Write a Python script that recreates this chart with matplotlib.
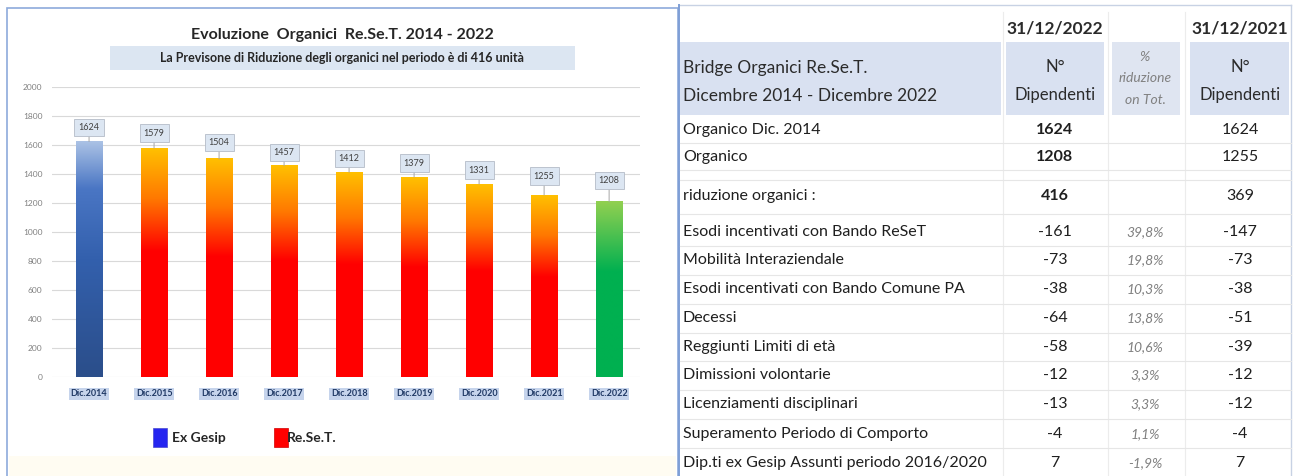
import matplotlib
matplotlib.use("Agg")
import matplotlib.pyplot as plt
import numpy as np
from matplotlib.colors import LinearSegmentedColormap
from matplotlib.patches import Rectangle
from matplotlib.lines import Line2D

plt.rcParams['font.family'] = ['Lato', 'DejaVu Sans']

# ---------------- data ----------------
categories = ['Dic.2014', 'Dic.2015', 'Dic.2016', 'Dic.2017', 'Dic.2018',
              'Dic.2019', 'Dic.2020', 'Dic.2021', 'Dic.2022']
values = [1624, 1579, 1504, 1457, 1412, 1379, 1331, 1255, 1208]
bar_groups = ['gesip', 'reset', 'reset', 'reset', 'reset', 'reset', 'reset', 'reset', 'final']
y_ticks = [0, 200, 400, 600, 800, 1000, 1200, 1400, 1600, 1800, 2000]

chart_title = 'Evoluzione  Organici  Re.Se.T. 2014 - 2022'
chart_subtitle = 'La Previsone di Riduzione degli organici nel periodo è di 416 unità'
legend_labels = ['Ex Gesip', 'Re.Se.T.']

table_title = ['Bridge Organici Re.Se.T.', 'Dicembre 2014 - Dicembre 2022']
col_dates = ['31/12/2022', '31/12/2021']
col_head = ['N°', 'Dipendenti']
pct_head = ['%', 'riduzione', 'on Tot.']
row_labels = ['Organico Dic. 2014', 'Organico', 'riduzione organici :',
              'Esodi incentivati con Bando ReSeT', 'Mobilità Interaziendale',
              'Esodi incentivati con Bando Comune PA', 'Decessi',
              'Reggiunti Limiti di età', 'Dimissioni volontarie',
              'Licenziamenti disciplinari', 'Superamento Periodo di Comporto',
              'Dip.ti ex Gesip Assunti periodo 2016/2020']
col_2022 = ['1624', '1208', '416', '-161', '-73', '-38', '-64', '-58', '-12', '-13', '-4', '7']
col_pct = ['', '', '', '39,8%', '19,8%', '10,3%', '13,8%', '10,6%', '3,3%', '3,3%', '1,1%', '-1,9%']
col_2021 = ['1624', '1255', '369', '-147', '-73', '-38', '-51', '-39', '-12', '-12', '-4', '7']

# ---------------- figure helpers ----------------
W, H = 1293, 476
fig = plt.figure(figsize=(W / 100, H / 100), dpi=100)
fig.patch.set_facecolor('white')


def fx(px):
    return px / W


def fy(py):
    return 1 - py / H


def ftext(px, py, s, **kw):
    fig.text(fx(px), fy(py), s, **kw)


def frect(x0, y0, x1, y1, **kw):
    fig.patches.append(Rectangle((fx(x0), fy(y1)), fx(x1) - fx(x0), fy(y0) - fy(y1),
                                 transform=fig.transFigure, **kw))


def fline(x0, y0, x1, y1, **kw):
    fig.lines.append(Line2D([fx(x0), fx(x1)], [fy(y0), fy(y1)],
                            transform=fig.transFigure, **kw))


# ---------------- left panel ----------------
frect(7, 8, 678, 480, facecolor='white', edgecolor='#8eaadb', lw=1.2, zorder=-2)
frect(9, 456, 676, 478, facecolor='#fffcf2', edgecolor='none', zorder=-1.5)

ftext(342, 35, chart_title, ha='center', va='center', fontsize=11.5,
      fontweight='bold', color='#262626')
frect(110, 46, 575, 70, facecolor='#dce6f2', edgecolor='none', zorder=-1)
ftext(342, 58, chart_subtitle, ha='center', va='center', fontsize=9,
      fontweight='bold', color='#262626', zorder=2)

ax = fig.add_axes([fx(52), fy(377), fx(640) - fx(52), fy(87) - fy(377)])
ax.set_zorder(3)
ax.set_facecolor('none')
x = np.arange(len(categories))
bars = ax.bar(x, values, width=0.4, color='none', edgecolor='none', zorder=3)

gradients = {
    'gesip': [(0.0, '#2b4e8a'), (0.5, '#3360ad'), (0.8, '#4a76c4'), (1.0, '#abc2e5')],
    'reset': [(0.0, '#ff0000'), (0.55, '#ff0000'), (0.78, '#ff7800'), (1.0, '#ffc000')],
    'final': [(0.0, '#00b050'), (0.6, '#00b050'), (1.0, '#92d050')],
}
grad = np.linspace(0, 1, 256).reshape(-1, 1)
for b, g in zip(bars, bar_groups):
    cmap = LinearSegmentedColormap.from_list(g, gradients[g])
    x0, w, h = b.get_x(), b.get_width(), b.get_height()
    ax.imshow(grad, cmap=cmap, origin='lower', aspect='auto',
              extent=[x0, x0 + w, 0, h], zorder=3, interpolation='bilinear')

ax.set_xlim(-0.57, 8.475)
ax.set_ylim(0, 2000)
ax.set_yticks(y_ticks)
ax.set_yticklabels([str(t) for t in y_ticks], fontsize=6, color='#808080')
ax.grid(axis='y', color='#d9d9d9', lw=0.8, zorder=0)
ax.set_axisbelow(True)
for s in ax.spines.values():
    s.set_visible(False)
ax.tick_params(axis='both', length=0)
ax.tick_params(axis='y', pad=7)
ax.set_xticks(x)
ax.set_xticklabels(categories, fontsize=6.5, fontweight='bold', color='#1f3864')
ax.tick_params(axis='x', pad=9)
for lab in ax.get_xticklabels():
    lab.set_bbox(dict(boxstyle='square,pad=0.15', facecolor='#c6d4ec', edgecolor='none'))

label_offsets_px = [14, 15, 16, 13, 14, 14, 14, 19, 21]
for xi, v, off in zip(x, values, label_offsets_px):
    ax.annotate(str(v), xy=(xi, v), xytext=(0, off * 0.72), textcoords='offset points',
                ha='center', va='center', fontsize=6.5, color='#404040', zorder=5,
                bbox=dict(boxstyle='square,pad=0.45', facecolor='#dce6f2',
                          edgecolor='#b4bcc8', lw=0.6),
                arrowprops=dict(arrowstyle='-', color='#a6a6a6', lw=0.7,
                                shrinkA=0, shrinkB=0))

# legend
frect(153, 428, 167, 447, facecolor='#2525f0', edgecolor='#4a4ad0', lw=0.5, zorder=2)
ftext(172, 437.5, legend_labels[0], ha='left', va='center', fontsize=10,
      fontweight='bold', color='#262626')
frect(274, 428, 288, 447, facecolor='#ff0000', edgecolor='#d00000', lw=0.5, zorder=2)
ftext(287, 437.5, legend_labels[1], ha='left', va='center', fontsize=10,
      fontweight='bold', color='#262626')

# ---------------- right panel: table ----------------
L, C1a, C1b, C2a, C2b, C3a, C3b, R = 680, 1006, 1104, 1112, 1180, 1190, 1289, 1291
c1, c2, c3 = 1055, 1145, 1240
hdr_blue = '#d9e1f1'

# header backgrounds
frect(L, 42, 1001, 115, facecolor=hdr_blue, edgecolor='none', zorder=-1)
frect(C1a, 42, C1b, 115, facecolor=hdr_blue, edgecolor='none', zorder=-1)
frect(C2a, 42, C2b, 115, facecolor='#dfe5f1', edgecolor='none', zorder=-1)
frect(C3a, 42, C3b, 115, facecolor=hdr_blue, edgecolor='none', zorder=-1)

# frame
fline(L, 5, R, 5, color='#c8d2e4', lw=1)
fline(L - 1, 5, L - 1, 476, color='#7f9fd6', lw=1.4)
fline(R, 5, R, 476, color='#c8d2e4', lw=1)
for xv in (1003, 1108, 1185):
    fline(xv, 12, xv, 476, color='#ececec', lw=0.8)

ftext(c1, 28, col_dates[0], ha='center', va='center', fontsize=12.5,
      fontweight='bold', color='#2b2b2b')
ftext(c3, 28, col_dates[1], ha='center', va='center', fontsize=12.5,
      fontweight='bold', color='#2b2b2b')

ftext(683, 68, table_title[0], ha='left', va='center', fontsize=12.5, color='#2b2b2b')
ftext(683, 96, table_title[1], ha='left', va='center', fontsize=12.5, color='#2b2b2b')
for cx in (c1, c3):
    ftext(cx, 67, col_head[0], ha='center', va='center', fontsize=12, color='#2b2b2b')
    ftext(cx, 95, col_head[1], ha='center', va='center', fontsize=12, color='#2b2b2b')
for s, yy in zip(pct_head, (57, 78, 100)):
    ftext(c2, yy, s, ha='center', va='center', fontsize=10, style='italic', color='#808080')

row_y = [130, 157, 196, 232, 260, 289, 318, 347, 375, 404, 434, 463]
for yy in [143, 170, 180, 214, 246, 275, 304, 333, 361, 390, 419, 448]:
    fline(L, yy, R, yy, color='#e6e6e6', lw=0.8)

for i, (lab, a, p, b, yy) in enumerate(zip(row_labels, col_2022, col_pct, col_2021, row_y)):
    ftext(683, yy, lab, ha='left', va='center', fontsize=11.5, color='#1f1f1f')
    ftext(c1, yy, a, ha='center', va='center', fontsize=11.5, color='#1f1f1f',
          fontweight='bold' if i < 3 else 'normal')
    ftext(c2, yy, p, ha='center', va='center', fontsize=10, style='italic', color='#808080')
    ftext(c3, yy, b, ha='center', va='center', fontsize=11.5, color='#1f1f1f')

fig.savefig('out.png', dpi=100)
